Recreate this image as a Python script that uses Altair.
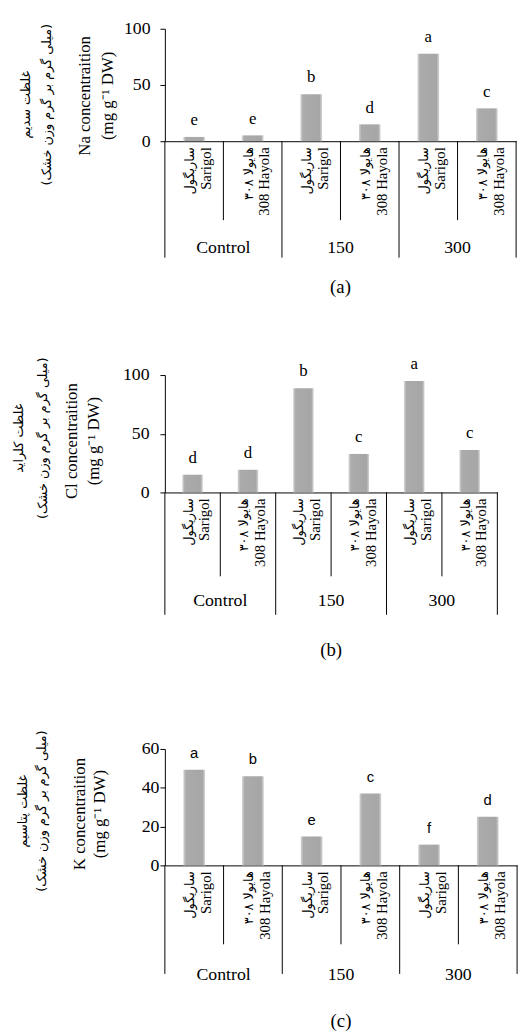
import altair as alt
import pandas as pd

# ---------------- data ----------------
groups = ["Control", "150", "300"]
cultivars_fa = ["ساریگول", "هایولا ۳۰۸"]
cultivars_en = ["Sarigol", "308 Hayola"]

na_values = [3.8, 5.2, 41.8, 15.0, 77.8, 29.2]
na_letters = ["e", "e", "b", "d", "a", "c"]

cl_values = [15.1, 19.3, 88.8, 32.8, 95.0, 36.1]
cl_letters = ["d", "d", "b", "c", "a", "c"]

k_values = [49.3, 45.9, 14.9, 37.0, 10.7, 25.0]
k_letters = ["a", "b", "e", "c", "f", "d"]

na_ticks = [0, 50, 100]
cl_ticks = [0, 50, 100]
k_ticks = [0, 20, 40, 60]

fa_unit = "\u200F(میلی گرم بر گرم وزن خشک)\u200F"
en_unit = "(mg g\u207B\u00B9 DW)"

SERIF = "Liberation Serif, Times New Roman, serif"
SANS = "Liberation Sans, Arial, sans-serif"
FA = "DejaVu Sans, sans-serif"

keys = [f"{g}|{c}" for g in groups for c in cultivars_en]
fa_lab = [fa for g in groups for fa in cultivars_fa]
en_lab = [en for g in groups for en in cultivars_en]
grp_col = [g for g in groups for _ in cultivars_en]
pos_in_group = [i for _ in groups for i in range(len(cultivars_en))]

bar_fill = alt.LinearGradient(
    gradient="linear", x1=0, x2=1, y1=0, y2=0,
    stops=[
        alt.GradientStop(offset=0, color="#d6d6d6"),
        alt.GradientStop(offset=0.12, color="#ababab"),
        alt.GradientStop(offset=0.88, color="#a6a6a6"),
        alt.GradientStop(offset=1, color="#d6d6d6"),
    ],
)


def panel(values, letters, ticks, cfg):
    W, H = cfg["w"], cfg["h"]
    df = pd.DataFrame({
        "key": keys, "fa": fa_lab, "en": en_lab, "group": grp_col, "pos": pos_in_group,
        "value": values, "letter": letters,
    })
    xscale = alt.Scale(domain=keys, paddingInner=0, paddingOuter=0)
    xaxis = alt.Axis(labels=False, ticks=False, grid=False, title=None,
                     domainColor="black", domainWidth=1)
    yscale = alt.Scale(domain=[0, ticks[-1]], nice=False)
    yaxis = alt.Axis(values=ticks, tickCount=len(ticks) + 2, grid=False, title=None,
                     labelOverlap=False, domainColor="black", tickColor="black",
                     tickSize=5, labelFont=SERIF, labelFontSize=18, labelColor="black",
                     labelPadding=cfg["lpad"])

    def X(bp=None):
        if bp is None:
            return alt.X("key:N", scale=xscale, axis=xaxis, sort=keys)
        return alt.X("key:N", scale=xscale, axis=xaxis, sort=keys, bandPosition=bp)

    Y = alt.Y("value:Q", scale=yscale, axis=yaxis)

    base = alt.Chart(df)
    bars = base.mark_bar(width=alt.RelativeBandSize(0.37), fill=bar_fill).encode(
        x=X(), y=Y)
    lets = base.mark_text(baseline="alphabetic", dy=-12, font=cfg["lfont"],
                          fontSize=cfg["lsize"], color="black").encode(
        x=X(), y=Y, text="letter:N")

    cats_fa = base.mark_text(angle=270, align="right", baseline="middle",
                             font=FA, fontSize=13, color="black", dy=-4).encode(
        x=X(), y=alt.value(H + 6), text="fa:N")
    cats_en = base.mark_text(angle=270, align="right", baseline="middle",
                             font=SERIF, fontSize=15, color="black", dy=12).encode(
        x=X(), y=alt.value(H + 6), text="en:N")

    inner = base.transform_filter("datum.pos > 0").mark_rule(color="black").encode(
        x=X(0), y=alt.value(H), y2=alt.value(H + cfg["inner"]))
    gstart = base.transform_filter("datum.pos == 0").mark_rule(color="black").encode(
        x=X(0), y=alt.value(H), y2=alt.value(H + cfg["outer"]))
    gend = base.transform_filter(f"datum.key == '{keys[-1]}'").mark_rule(color="black").encode(
        x=X(1), y=alt.value(H), y2=alt.value(H + cfg["outer"]))

    glabs = base.transform_filter("datum.pos == 1").mark_text(
        font=SERIF, fontSize=18, color="black", baseline="middle").encode(
        x=X(0), y=alt.value(H + cfg["gy"]), text="group:N")

    tdf = pd.DataFrame({"t": [cfg["tag"]]})
    tag = alt.Chart(tdf).mark_text(font=SERIF, fontSize=19, color="black",
                                   baseline="middle").encode(
        x=alt.value(W / 2), y=alt.value(H + cfg["tagy"]), text="t:N")

    titles = []
    for txt, xo, yc, fnt, fs in [
        (cfg["fa1"], cfg["tx"][0], cfg["fay"], FA, 13),
        (fa_unit, cfg["tx"][1], cfg["fay"], FA, 13),
        (cfg["en1"], cfg["tx"][2], cfg["eny"], SERIF, 17),
        (en_unit, cfg["tx"][3], cfg["eny"], SERIF, 17),
    ]:
        titles.append(
            alt.Chart(pd.DataFrame({"t": [txt]})).mark_text(
                angle=270, align="center", baseline="middle", font=fnt,
                fontSize=fs, color="black").encode(
                x=alt.value(xo), y=alt.value(yc), text="t:N"))

    return alt.layer(bars, lets, cats_fa, cats_en, inner, gstart, gend, glabs, tag,
                     *titles).properties(width=W, height=H)


pa = panel(na_values, na_letters, na_ticks, dict(
    w=356, h=114, lpad=10, lfont=SERIF, lsize=17, inner=80, outer=118, gy=108, tagy=148,
    tag="(a)", fa1="غلظت سدیم", en1="Na concentraition",
    tx=[-141, -119, -81, -58], fay=77, eny=68))

pb = panel(cl_values, cl_letters, cl_ticks, dict(
    w=337, h=119, lpad=11, lfont=SERIF, lsize=17, inner=85, outer=124, gy=110, tagy=160,
    tag="(b)", fa1="غلظت کلراید", en1="Cl concentraition",
    tx=[-148, -123, -94, -72], fay=64, eny=67))

pc = panel(k_values, k_letters, k_ticks, dict(
    w=357, h=118, lpad=1, lfont=SANS, lsize=15, inner=80, outer=110, gy=111, tagy=158,
    tag="(c)", fa1="غلظت پتاسیم", en1="K concentraition",
    tx=[-144, -124, -86, -66], fay=63, eny=66))

chart = alt.vconcat(
    pa,
    alt.vconcat(pb, pc, spacing=260, bounds="flush"),
    spacing=237, bounds="flush",
).properties(padding={"left": 5, "top": 5, "right": 5, "bottom": 5}).configure_view(strokeWidth=0)

chart.save("out.html", embed_options={"renderer": "svg", "actions": False})
